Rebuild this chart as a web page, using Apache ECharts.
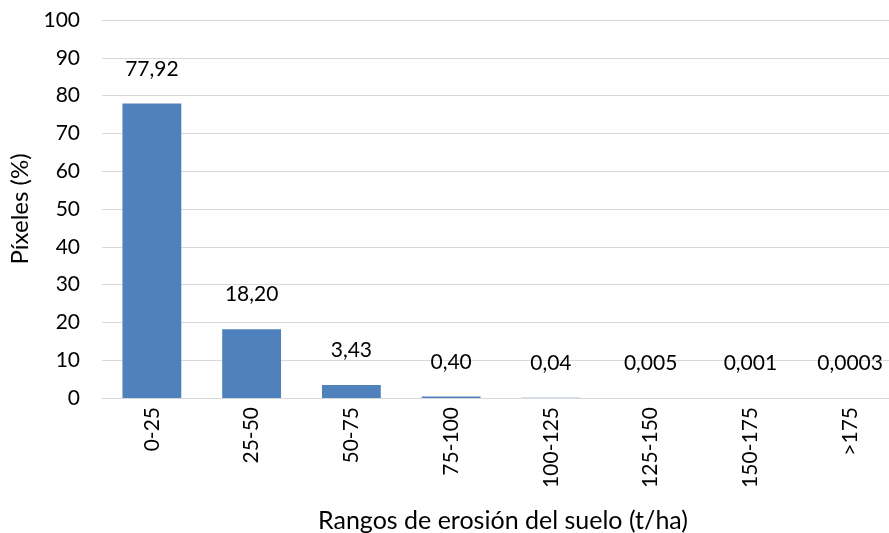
<!DOCTYPE html>
<html><head><meta charset="utf-8">
<script src="https://cdn.jsdelivr.net/npm/echarts@6/dist/echarts.min.js"></script>
<style>html,body{margin:0;padding:0;background:#fff;overflow:hidden}#c{width:889px;height:533px}</style>
</head><body><div id="c"></div>
<script>
const categories = ['0-25','25-50','50-75','75-100','100-125','125-150','150-175','>175'];
const values = [77.92, 18.20, 3.43, 0.40, 0.04, 0.005, 0.001, 0.0003];
const valueLabels = ['77,92','18,20','3,43','0,40','0,04','0,005','0,001','0,0003'];
const yTicks = [0,10,20,30,40,50,60,70,80,90,100];
const FONT = 'Lato, "Open Sans", sans-serif';
const chart = echarts.init(document.getElementById('c'));
chart.setOption({
  animation: false,
  grid: {left: 102, right: -11, top: 20, height: 378, containLabel: false, outerBoundsMode: 'none'},
  xAxis: {
    type: 'category', data: categories,
    axisLine: {lineStyle: {color: '#d9d9d9', width: 1}},
    axisTick: {show: false},
    axisLabel: {rotate: 90, color: '#000', fontSize: 21, fontFamily: FONT, margin: 9},
    name: 'Rangos de erosión del suelo (t/ha)', nameLocation: 'middle', nameGap: 110,
    nameTextStyle: {color: '#000', fontSize: 25, fontFamily: FONT, padding: [0, 0, 0, 4]}
  },
  yAxis: {
    type: 'value', min: yTicks[0], max: yTicks[yTicks.length-1], interval: 10,
    axisLine: {show: false}, axisTick: {show: false},
    splitLine: {lineStyle: {color: '#d9d9d9', width: 1}},
    axisLabel: {color: '#000', fontSize: 21, fontFamily: FONT, margin: 22},
    name: 'Píxeles (%)', nameLocation: 'middle', nameGap: 70, nameRotate: 90,
    nameTextStyle: {color: '#000', fontSize: 24, fontFamily: FONT}
  },
  series: [{
    type: 'bar', data: values, barCategoryGap: '41%',
    itemStyle: {color: '#4F81BD'},
    label: {show: true, position: 'top', distance: 24, color: '#000', fontSize: 21, fontFamily: FONT,
      formatter: p => valueLabels[p.dataIndex]}
  }]
});
</script></body></html>
